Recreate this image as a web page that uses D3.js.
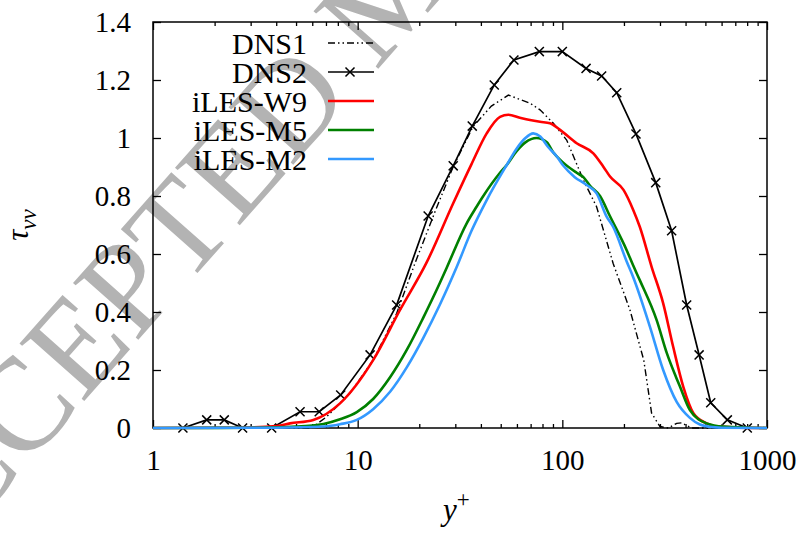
<!DOCTYPE html>
<html lang="en">
  <head>
    <meta charset="utf-8">
    <script src="https://d3js.org/d3.v7.min.js"></script>
    <title>tau_vv profiles</title>
    <style>
      body { margin: 0; background: #fff; }
      text { font-family: "Liberation Serif", "Times New Roman", serif; }
    </style>
  </head>
  <body>
    <script>
      // series (x = y+, y = tau_vv)
      var dns1X = [3.5, 5.96, 7.06, 9.17, 11.9, 15.5, 19.05, 24.0, 29.3, 36.6, 45.0, 54.5, 69.5, 77.8, 90.4, 105, 126.7, 147, 177, 214, 250, 273, 300, 330, 362, 385, 405, 430, 1000];
      var dns1Y = [0, 0, 0.039, 0.12, 0.234, 0.395, 0.568, 0.75, 0.901, 1.039, 1.11, 1.148, 1.12, 1.097, 1.051, 0.993, 0.855, 0.763, 0.568, 0.407, 0.234, 0.051, 0.005, 0, 0.016, 0.018, 0.008, 0, 0];

      var dns2X = [1.40, 1.83, 2.23, 2.74, 3.80, 5.23, 6.49, 8.26, 11.5, 15.5, 22.1, 29.3, 36.3, 46.5, 58.0, 77.2, 100, 130.6, 155.6, 184.4, 229, 286, 342, 405, 466, 531, 640, 801];
      var dns2Y = [0, 0.028, 0.028, 0, 0, 0.056, 0.056, 0.114, 0.252, 0.424, 0.731, 0.904, 1.041, 1.183, 1.269, 1.298, 1.298, 1.240, 1.214, 1.156, 1.014, 0.846, 0.680, 0.424, 0.252, 0.087, 0.028, 0];

      var w9X = [1, 2.5, 4.02, 4.67, 6.07, 8.2, 11.9, 16.1, 21.7, 29.3, 36, 42.7, 49.6, 54.5, 62, 69.5, 77.8, 87, 97.5, 117.5, 141.7, 158.6, 171, 199, 222, 239, 273, 311, 348, 390, 437, 507, 589, 1000];
      var w9Y = [0, 0.001, 0.007, 0.016, 0.028, 0.085, 0.234, 0.407, 0.57, 0.775, 0.91, 1.016, 1.073, 1.08, 1.07, 1.062, 1.056, 1.051, 1.028, 0.982, 0.947, 0.901, 0.867, 0.821, 0.752, 0.694, 0.556, 0.43, 0.28, 0.142, 0.051, 0.016, 0.004, 0];

      var m5X = [1, 3, 5, 6.8, 8.2, 9.9, 11.9, 14.4, 17.4, 20.9, 25.2, 27.2, 34.1, 38.1, 41.1, 49.6, 53.5, 59.8, 66, 74.8, 84, 90.4, 101, 117.5, 126.7, 136.6, 152.8, 171, 206, 222, 239, 289, 324, 362, 376, 420, 507, 612, 1000];
      var m5Y = [0, 0.001, 0.005, 0.014, 0.03, 0.055, 0.1, 0.175, 0.27, 0.38, 0.5, 0.552, 0.706, 0.763, 0.8, 0.88, 0.907, 0.955, 0.985, 1.0, 0.985, 0.95, 0.915, 0.88, 0.865, 0.835, 0.8, 0.73, 0.614, 0.56, 0.51, 0.372, 0.258, 0.17, 0.142, 0.062, 0.016, 0.005, 0];

      var m2X = [1, 4, 6.8, 8.2, 9.9, 11.9, 14.4, 17.4, 20.9, 25.2, 30.5, 36, 42.7, 53.5, 60, 66, 72.1, 78, 85, 94, 101, 115, 131.5, 147, 164.6, 177, 206, 222, 268, 311, 362, 420, 470, 527, 600, 1000];
      var m2Y = [0, 0.001, 0.005, 0.013, 0.028, 0.065, 0.125, 0.21, 0.31, 0.425, 0.556, 0.68, 0.786, 0.907, 0.965, 1.0, 1.016, 1.005, 0.97, 0.936, 0.905, 0.865, 0.838, 0.809, 0.729, 0.694, 0.575, 0.52, 0.349, 0.2, 0.09, 0.035, 0.012, 0.004, 0.001, 0];

      var seriesNames = ["DNS1", "DNS2", "iLES-W9", "iLES-M5", "iLES-M2"];
      var xMajor = [1, 10, 100, 1000];
      var yTicks = [0, 0.2, 0.4, 0.6, 0.8, 1, 1.2, 1.4];

      var width = 807, height = 534;
      var mLeft = 153, mRight = 767, mTop = 22, mBottom = 428;

      var svg = d3.select("body").append("svg")
        .attr("width", width)
        .attr("height", height);

      svg.append("rect").attr("width", width).attr("height", height).attr("fill", "#fff");

      // watermark
      svg.append("text")
        .attr("transform", "translate(-98,607) rotate(-48.5)")
        .attr("font-size", 132)
        .attr("fill", "#b3b3b3")
        .text("ACCEPTED MANUSCRIPT");

      var xScale = d3.scaleLog().domain([1, 1000]).range([mLeft, mRight]);
      var yScale = d3.scaleLinear().domain([0, 1.4]).range([mBottom, mTop]);

      var xMinor = [];
      [1, 10, 100].forEach(function (d) {
        for (var k = 2; k <= 9; k++) xMinor.push(d * k);
      });

      function styleAxis(g) {
        g.select(".domain").remove();
        g.selectAll("line").attr("stroke", "#000").attr("stroke-width", 1.3);
        g.selectAll("text").attr("fill", "#000").attr("font-size", 29)
          .attr("font-family", "Liberation Serif, Times New Roman, serif");
      }

      // bottom
      svg.append("g").attr("transform", "translate(0," + mBottom + ")")
        .call(d3.axisBottom(xScale).tickValues(xMajor).tickSize(-8).tickPadding(14).tickFormat(d3.format("d")))
        .call(styleAxis)
        .selectAll("text").attr("dy", "0.95em");
      svg.append("g").attr("transform", "translate(0," + mBottom + ")")
        .call(d3.axisBottom(xScale).tickValues(xMinor).tickSize(-4).tickFormat(""))
        .call(styleAxis);
      // top
      svg.append("g").attr("transform", "translate(0," + mTop + ")")
        .call(d3.axisTop(xScale).tickValues(xMajor).tickSize(-8).tickFormat(""))
        .call(styleAxis);
      svg.append("g").attr("transform", "translate(0," + mTop + ")")
        .call(d3.axisTop(xScale).tickValues(xMinor).tickSize(-4).tickFormat(""))
        .call(styleAxis);
      // left
      svg.append("g").attr("transform", "translate(" + mLeft + ",0)")
        .call(d3.axisLeft(yScale).tickValues(yTicks).tickSize(-8).tickPadding(22).tickFormat(function (d) { return String(d); }))
        .call(styleAxis);
      // right
      svg.append("g").attr("transform", "translate(" + mRight + ",0)")
        .call(d3.axisRight(yScale).tickValues(yTicks).tickSize(-8).tickFormat(""))
        .call(styleAxis);

      // frame
      svg.append("rect")
        .attr("x", mLeft).attr("y", mTop)
        .attr("width", mRight - mLeft).attr("height", mBottom - mTop)
        .attr("fill", "none").attr("stroke", "#000").attr("stroke-width", 1.5);

      function toPts(xs, ys) {
        return xs.map(function (x, i) { return [x, ys[i]]; });
      }

      var lineLin = d3.line()
        .x(function (d) { return xScale(d[0]); })
        .y(function (d) { return yScale(d[1]); });
      var lineSmooth = d3.line()
        .curve(d3.curveMonotoneX)
        .x(function (d) { return xScale(d[0]); })
        .y(function (d) { return yScale(d[1]); });

      var plot = svg.append("g");

      plot.append("path").datum(toPts(dns1X, dns1Y))
        .attr("d", lineLin).attr("fill", "none")
        .attr("stroke", "#000").attr("stroke-width", 1.4)
        .attr("stroke-dasharray", "7,3,1.5,3,1.5,3");

      var dns2 = toPts(dns2X, dns2Y);
      plot.append("path").datum(dns2)
        .attr("d", lineLin).attr("fill", "none")
        .attr("stroke", "#000").attr("stroke-width", 1.7);

      var cross = d3.symbol().type(d3.symbolX).size(55);
      plot.selectAll(".mk").data(dns2).enter().append("path")
        .attr("class", "mk")
        .attr("transform", function (d) { return "translate(" + xScale(d[0]) + "," + yScale(d[1]) + ")"; })
        .attr("d", cross).attr("fill", "none").attr("stroke", "#000").attr("stroke-width", 1.5);

      var les = [
        { x: w9X, y: w9Y, color: "#ff0000" },
        { x: m5X, y: m5Y, color: "#008000" },
        { x: m2X, y: m2Y, color: "#3399ff" }
      ];
      les.forEach(function (s) {
        plot.append("path").datum(toPts(s.x, s.y))
          .attr("d", lineSmooth).attr("fill", "none")
          .attr("stroke", s.color).attr("stroke-width", 2.6);
      });

      // legend
      var legY = [43, 72, 101, 130, 159];
      var legStyles = [
        { color: "#000", w: 1.4, dash: "7,3,1.5,3,1.5,3" },
        { color: "#000", w: 1.7, dash: null },
        { color: "#ff0000", w: 2.6, dash: null },
        { color: "#008000", w: 2.6, dash: null },
        { color: "#3399ff", w: 2.6, dash: null }
      ];
      var leg = svg.append("g");
      seriesNames.forEach(function (name, i) {
        leg.append("text")
          .attr("x", 307).attr("y", legY[i] + 11)
          .attr("text-anchor", "end").attr("font-size", 30)
          .text(name);
        leg.append("line")
          .attr("x1", 328).attr("x2", 374)
          .attr("y1", legY[i]).attr("y2", legY[i])
          .attr("stroke", legStyles[i].color)
          .attr("stroke-width", legStyles[i].w)
          .attr("stroke-dasharray", legStyles[i].dash);
      });
      leg.append("path")
        .attr("transform", "translate(350," + legY[1] + ")")
        .attr("d", cross).attr("fill", "none").attr("stroke", "#000").attr("stroke-width", 1.5);

      // axis titles
      var yl = svg.append("text")
        .attr("transform", "translate(28,225) rotate(-90)")
        .attr("text-anchor", "middle").attr("font-size", 31).attr("font-style", "italic");
      yl.append("tspan").text("\u03c4");
      yl.append("tspan").attr("dy", 8).attr("font-size", 23).text("vv");

      var xl = svg.append("text")
        .attr("x", 443).attr("y", 520)
        .attr("font-size", 31).attr("font-style", "italic");
      xl.append("tspan").text("y");
      xl.append("tspan").attr("dy", -13).attr("font-size", 23).attr("font-style", "normal").text("+");
    </script>
  </body>
</html>
